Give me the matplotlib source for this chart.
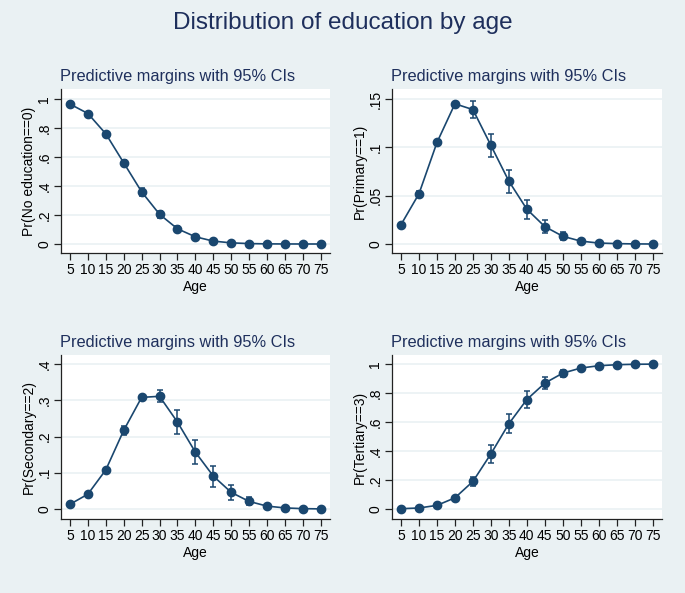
import matplotlib
matplotlib.use("Agg")
import matplotlib.pyplot as plt
import numpy as np

plt.rcParams['font.family'] = ['Liberation Sans', 'DejaVu Sans']

ages = [5, 10, 15, 20, 25, 30, 35, 40, 45, 50, 55, 60, 65, 70, 75]

none_m = [0.965, 0.90, 0.76, 0.56, 0.36, 0.205, 0.105, 0.05, 0.02, 0.008, 0.003, 0.001, 0.0003, 0.0001, 0.0]
none_ci = [0.008, 0.01, 0.012, 0.018, 0.028, 0.025, 0.018, 0.012, 0.007, 0.004, 0.002, 0.001, 0.0, 0.0, 0.0]

prim_m = [0.020, 0.052, 0.105, 0.145, 0.139, 0.102, 0.065, 0.036, 0.018, 0.008, 0.003, 0.001, 0.0004, 0.0001, 0.0]
prim_ci = [0.002, 0.003, 0.002, 0.002, 0.0085, 0.012, 0.012, 0.010, 0.007, 0.004, 0.0015, 0.0007, 0.0003, 0.0001, 0.0]

sec_m = [0.013, 0.041, 0.108, 0.217, 0.308, 0.311, 0.240, 0.157, 0.091, 0.046, 0.021, 0.008, 0.003, 0.001, 0.0003]
sec_ci = [0.002, 0.004, 0.006, 0.012, 0.006, 0.017, 0.032, 0.033, 0.029, 0.020, 0.011, 0.004, 0.002, 0.001, 0.0003]

ter_m = [0.002, 0.007, 0.025, 0.077, 0.19, 0.38, 0.588, 0.755, 0.868, 0.937, 0.972, 0.988, 0.995, 0.998, 0.999]
ter_ci = [0.001, 0.002, 0.005, 0.012, 0.033, 0.06, 0.067, 0.06, 0.043, 0.025, 0.012, 0.005, 0.002, 0.001, 0.0005]

ylabels = ["Pr(No education==0)", "Pr(Primary==1)", "Pr(Secondary==2)", "Pr(Tertiary==3)"]
yticks = [[0, 0.2, 0.4, 0.6, 0.8, 1.0], [0, 0.05, 0.1, 0.15], [0, 0.1, 0.2, 0.3, 0.4], [0, 0.2, 0.4, 0.6, 0.8, 1.0]]
yticklabels = [["0", ".2", ".4", ".6", ".8", "1"], ["0", ".05", ".1", ".15"],
               ["0", ".1", ".2", ".3", ".4"], ["0", ".2", ".4", ".6", ".8", "1"]]
ylims = [(-0.062, 1.069), (-0.0093, 0.1603), (-0.0276, 0.425), (-0.069, 1.062)]
means = [none_m, prim_m, sec_m, ter_m]
cis = [none_ci, prim_ci, sec_ci, ter_ci]

title = "Distribution of education by age"
subtitle = "Predictive margins with 95% CIs"

BG = "#eaf1f3"
NAVY = "#1a476f"
TITLE_C = "#1e2f5c"
GRID = "#eaf1f3"

W, H = 685, 593
fig = plt.figure(figsize=(W / 100, H / 100), dpi=100)
fig.patch.set_facecolor(BG)

boxes = [(61, 330, 89, 253), (392, 662, 89, 253), (61, 330, 355, 519), (392, 662, 355, 519)]

fig.text(343 / W, 1 - 23 / H, title, ha='center', va='center', fontsize=17.5, color=TITLE_C)

for i, (l, r, t, b) in enumerate(boxes):
    ax = fig.add_axes([l / W, 1 - b / H, (r - l) / W, (b - t) / H])
    ax.set_facecolor("white")
    ax.errorbar(ages, means[i], yerr=cis[i], color=NAVY, lw=1.2, marker='o', ms=6,
                mfc=NAVY, mec=NAVY, ecolor=NAVY, elinewidth=1.1, capsize=2.5, capthick=1.1, zorder=3)
    ax.set_xlim(2.49, 77.6)
    ax.set_ylim(*ylims[i])
    ax.set_xticks(ages)
    ax.set_xticklabels([str(a) for a in ages], fontsize=10)
    ax.set_yticks(yticks[i])
    ax.set_yticklabels(yticklabels[i], fontsize=10, rotation=90, va='center')
    ax.yaxis.grid(True, color=GRID, lw=1.2)
    ax.set_axisbelow(True)
    for s in ['top', 'right']:
        ax.spines[s].set_visible(False)
    for s in ['left', 'bottom']:
        ax.spines[s].set_color('#222222')
        ax.spines[s].set_linewidth(0.9)
    ax.tick_params(axis='both', direction='out', length=5, width=0.9, color='#222222', pad=2)
    ax.set_xlabel("Age", fontsize=10, labelpad=2)
    ax.set_ylabel(ylabels[i], fontsize=10, labelpad=1)
    ax.text(-0.005, 1.0 + 13 / (b - t), subtitle, transform=ax.transAxes, ha='left', va='center',
            fontsize=11.8, color=TITLE_C)

fig.savefig("out.png", dpi=100, facecolor=BG)
